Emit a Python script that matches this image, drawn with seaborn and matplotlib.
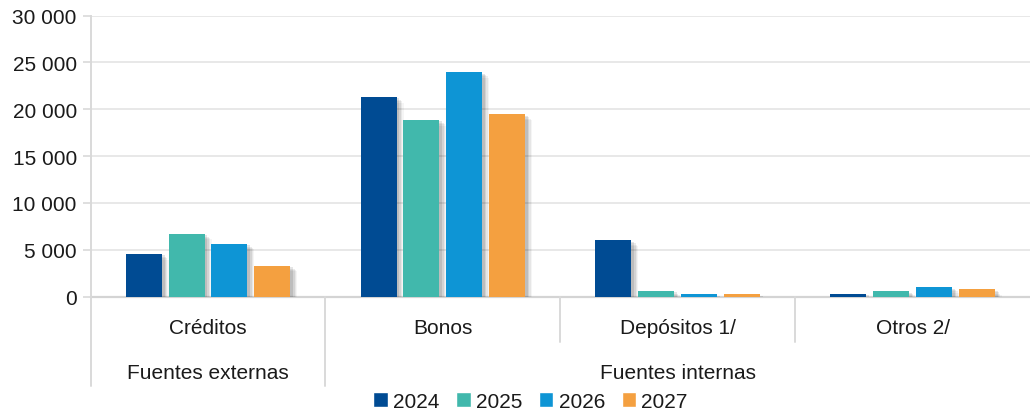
import matplotlib
matplotlib.use("Agg")
import matplotlib.pyplot as plt
import matplotlib.patheffects as pe
from matplotlib.ticker import FuncFormatter
import seaborn as sns
import pandas as pd

categories = ["Créditos", "Bonos", "Depósitos 1/", "Otros 2/"]
groups = ["Fuentes externas", "Fuentes internas"]
group_spans = [(0, 0), (1, 3)]
years = ["2024", "2025", "2026", "2027"]
v2024 = [4550, 21300, 6000, 300]
v2025 = [6700, 18850, 600, 570]
v2026 = [5650, 23950, 250, 1000]
v2027 = [3300, 19450, 250, 780]
colors = ["#004B93", "#41B8AC", "#0E95D5", "#F4A040"]

rows = []
for yr, vals in zip(years, [v2024, v2025, v2026, v2027]):
    for c, v in zip(categories, vals):
        rows.append({"categoria": c, "valor": v, "anio": yr})
df = pd.DataFrame(rows)

sns.set_theme(style="white")
plt.rcParams["font.family"] = ["Liberation Sans", "DejaVu Sans"]
FS = 15
TXT = "#1a1a1a"

fig = plt.figure(figsize=(10.3, 4.14), dpi=100)
ax = fig.add_axes([0.088, 0.281, 0.912, 0.679])

sns.barplot(data=df, x="categoria", y="valor", hue="anio", order=categories,
            hue_order=years, palette=colors, width=0.73, gap=0.16,
            saturation=1, errorbar=None, ax=ax, legend=True, zorder=3)

# soft drop shadow built from a few offset layers
shadow = [
    pe.SimplePatchShadow(offset=(5, -4), shadow_rgbFace="#000000", alpha=0.04),
    pe.SimplePatchShadow(offset=(4, -3), shadow_rgbFace="#000000", alpha=0.06),
    pe.SimplePatchShadow(offset=(3, -2), shadow_rgbFace="#000000", alpha=0.08),
    pe.SimplePatchShadow(offset=(2, -1), shadow_rgbFace="#000000", alpha=0.10),
    pe.Normal(),
]
for p in ax.patches:
    p.set_path_effects(shadow)
    p.set_linewidth(0)

ax.set_ylim(0, 30000)
ax.set_xlim(-0.5, 3.5)
ax.set_yticks(range(0, 30001, 5000))
ax.yaxis.set_major_formatter(FuncFormatter(lambda v, _: f"{int(v):,}".replace(",", " ")))
ax.grid(axis="y", color="#E8E8E8", linewidth=1.4, zorder=0)
ax.set_axisbelow(True)
for s in ["top", "right", "bottom"]:
    ax.spines[s].set_visible(False)
ax.spines["left"].set_color("#D9D9D9")
ax.spines["left"].set_linewidth(1.4)
ax.tick_params(axis="y", which="major", left=True, length=6, width=1.2,
               color="#D9D9D9", labelsize=FS, pad=4, labelcolor=TXT)
ax.tick_params(axis="x", bottom=False, labelbottom=False)
ax.set_xlabel("")
ax.set_ylabel("")

# baseline along zero
ax.axhline(0, color="#D4D4D4", linewidth=1.6, zorder=2, clip_on=False)

xt = ax.get_xaxis_transform()
# category labels and separators
for i, c in enumerate(categories):
    ax.text(i, -0.11, c, transform=xt, ha="center", va="center",
            fontsize=FS, color=TXT)
for b in [0.5, 1.5, 2.5]:
    y_end = -0.317 if b == 0.5 else -0.16
    ax.plot([b, b], [0, y_end], transform=xt, color="#D9D9D9",
            linewidth=1.4, clip_on=False)
ax.plot([-0.5, -0.5], [0, -0.317], transform=xt, color="#D9D9D9",
        linewidth=1.4, clip_on=False)
for g, (a, b) in zip(groups, group_spans):
    ax.text((a + b) / 2, -0.268, g, transform=xt, ha="center", va="center",
            fontsize=FS, color=TXT)

leg = ax.get_legend()
handles = leg.legend_handles
leg.remove()
fig.legend(handles, years, loc="center", bbox_to_anchor=(0.515, 0.028),
           ncol=4, frameon=False, fontsize=FS, handlelength=0.7,
           handleheight=0.7, handletextpad=0.25, columnspacing=0.8,
           borderaxespad=0, borderpad=0, labelcolor=TXT)

fig.savefig("out.png", dpi=100)
